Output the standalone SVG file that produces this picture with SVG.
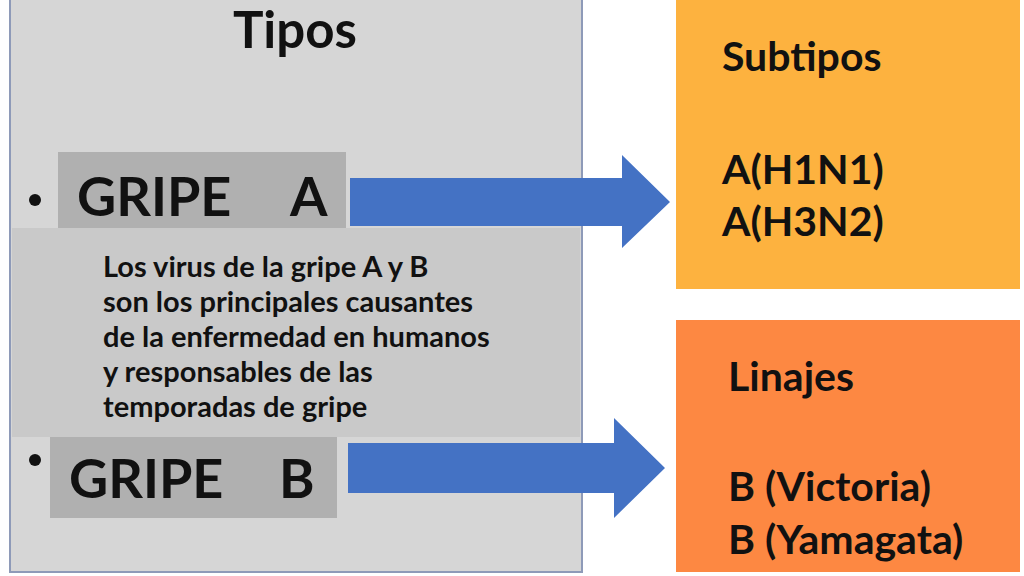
<svg xmlns="http://www.w3.org/2000/svg" width="1024" height="576" viewBox="0 0 1024 576">
<style>
.t{font-family:Lato,"Open Sans","Liberation Sans",sans-serif;font-weight:bold;fill:#111}
.big{font-size:54px}
.hd{font-size:41px}
.body{font-size:29px}
.arrow{fill:#4472C4}
</style>
<rect width="1024" height="576" fill="#ffffff"/>
<g id="tipos">
<rect x="10" y="-2" width="572" height="574" fill="#d6d6d6" stroke="#8e9ab8" stroke-width="2"/>
<text class="t" x="295" y="48" font-size="51" text-anchor="middle">Tipos</text>
</g>
<g id="descripcion">
<rect x="12" y="228" width="568" height="209" fill="#c9c9c9"/>
<text class="t body" x="103" y="277">Los virus de la gripe A y B</text>
<text class="t body" x="103" y="312">son los principales causantes</text>
<text class="t body" x="103" y="347">de la enfermedad en humanos</text>
<text class="t body" x="103" y="382">y responsables de las</text>
<text class="t body" x="103" y="417">temporadas de gripe</text>
</g>
<g id="gripe-a">
<rect x="58" y="152" width="288" height="76" fill="#b0b0b0"/>
<circle cx="35" cy="200" r="6" fill="#111"/>
<text class="t big" x="77" y="216">GRIPE</text>
<text class="t big" x="290" y="216">A</text>
</g>
<g id="gripe-b">
<rect x="50" y="437" width="287" height="81" fill="#b0b0b0"/>
<circle cx="35" cy="460" r="6" fill="#111"/>
<text class="t big" x="69" y="498">GRIPE</text>
<text class="t big" x="279" y="498">B</text>
</g>
<g id="subtipos">
<rect x="676" y="0" width="344" height="289" fill="#FDB23F"/>
<text class="t hd" x="722" y="71">Subtipos</text>
<text class="t hd" x="722" y="184">A(H1N1)</text>
<text class="t hd" x="722" y="236">A(H3N2)</text>
</g>
<g id="linajes">
<rect x="676" y="320" width="344" height="252" fill="#FD8842"/>
<text class="t hd" x="728" y="391">Linajes</text>
<text class="t hd" x="728" y="501">B (Victoria)</text>
<text class="t hd" x="728" y="554">B (Yamagata)</text>
</g>
<g id="connectors">
<polygon class="arrow" points="350,178 622,178 622,155 670,202 622,248 622,226 350,226"/>
<polygon class="arrow" points="348,443 614,443 614,418 665,468 614,518 614,493 348,493"/>
</g>
</svg>
